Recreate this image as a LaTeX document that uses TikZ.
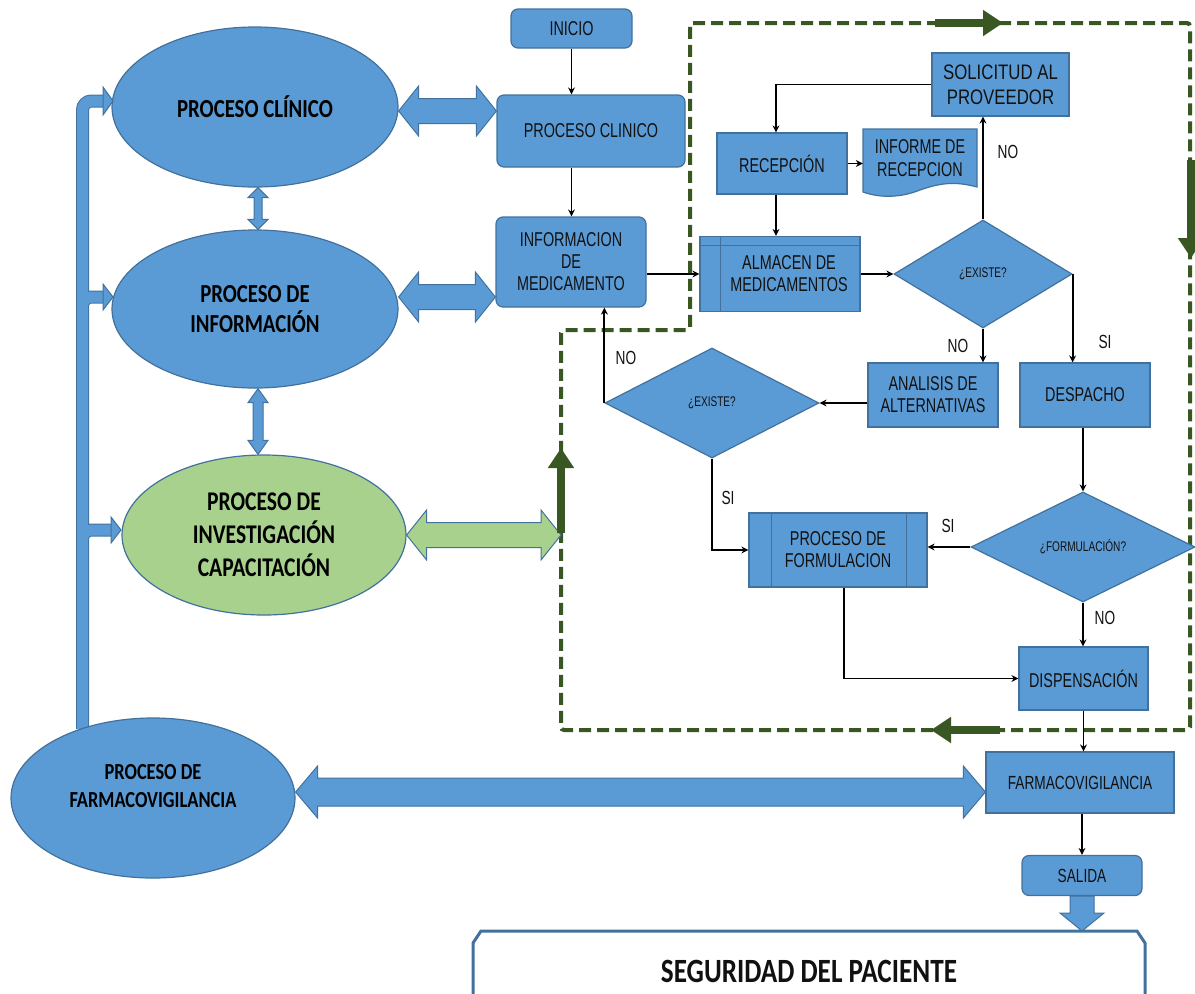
\documentclass[tikz,border=0pt]{standalone}
\usepackage{fontspec}
\usetikzlibrary{shapes.geometric,arrows.meta,calc}
\newfontfamily\boxfont{Liberation Sans}[FakeStretch=0.72]
\newfontfamily\boxfontw{Liberation Sans}[FakeStretch=0.8]
\newfontfamily\elfont{Carlito}[FakeStretch=0.8]
\definecolor{bfill}{HTML}{5B9BD5}
\definecolor{bline}{HTML}{41719C}
\definecolor{gfill}{HTML}{A9D18E}
\definecolor{dgreen}{HTML}{385723}
\definecolor{txt}{HTML}{111111}
% horizontal double block arrow: style, start, end, shaft half, head half, head length
\newcommand\myhdbl[6]{\path[#1] let \p1=(#2), \p2=(#3) in (\x1,\y1) -- (\x1+#6,\y1+#5) -- (\x1+#6,\y1+#4) -- (\x2-#6,\y1+#4) -- (\x2-#6,\y1+#5) -- (\x2,\y1) -- (\x2-#6,\y1-#5) -- (\x2-#6,\y1-#4) -- (\x1+#6,\y1-#4) -- (\x1+#6,\y1-#5) -- cycle;}
% vertical double block arrow: style, top, bottom, shaft half, head half, head length
\newcommand\myvdbl[6]{\path[#1] let \p1=(#2), \p2=(#3) in (\x1,\y1) -- (\x1+#5,\y1-#6) -- (\x1+#4,\y1-#6) -- (\x1+#4,\y2+#6) -- (\x1+#5,\y2+#6) -- (\x1,\y2) -- (\x1-#5,\y2+#6) -- (\x1-#4,\y2+#6) -- (\x1-#4,\y1-#6) -- (\x1-#5,\y1-#6) -- cycle;}
% single down block arrow
\newcommand\mydown[6]{\path[#1] let \p1=(#2), \p2=(#3) in (\x1-#4,\y1) -- (\x1-#4,\y2+#6) -- (\x1-#5,\y2+#6) -- (\x1,\y2) -- (\x1+#5,\y2+#6) -- (\x1+#4,\y2+#6) -- (\x1+#4,\y1) -- cycle;}
\begin{document}
\begin{tikzpicture}[x=1pt,y=-1pt,
  box/.style={draw=bline, fill=bfill, line width=1.2pt, inner sep=0pt, align=center, text=txt, font=\boxfont\fontsize{20}{22}\selectfont},
  rbox/.style={box, rounded corners=7pt},
  dia/.style={diamond, draw=bline, fill=bfill, line width=1.2pt, inner sep=0pt, text=txt, font=\boxfont\fontsize{14}{16}\selectfont},
  ell/.style={ellipse, draw=bline, fill=bfill, line width=1.2pt, inner sep=0pt, align=center, text=black, font=\elfont\bfseries\fontsize{26}{30}\selectfont},
  arr/.style={-{Stealth[length=7pt,width=7pt]}, line width=1.9pt, black},
  lbl/.style={text=txt, font=\boxfont\fontsize{19}{21}\selectfont, inner sep=0pt},
  blk/.style={fill=bfill, draw=bline, line width=1pt},
  gblk/.style={fill=gfill, draw=bline, line width=1pt},
  loopline/.style={dgreen, line width=4pt, dash pattern=on 12pt off 6pt, rounded corners=3pt},
  garr/.style={dgreen, line width=8pt, -{Triangle[length=20pt,width=25pt]}},
]
\useasboundingbox (0,0) rectangle (1195,994);

% dashed green loop
\coordinate (D1) at (690,23);
\coordinate (D2) at (1190,23);
\coordinate (D3) at (1190,730);
\coordinate (D4) at (561,730);
\coordinate (D5) at (561,330);
\coordinate (D6) at (690,330);
\draw[loopline] (D1) -- (D2) -- (D3) -- (D4) -- (D5) -- (D6) -- cycle;

% left bus lines
\coordinate (busb) at (82.5,729);
\coordinate (t1) at (113,101);
\coordinate (t2) at (113,297);
\coordinate (t3) at (121,530);
\coordinate (b2) at ($(busb |- t2)+(0,20)$);
\coordinate (b3) at ($(busb |- t3)+(0,18)$);
\draw[bline, line width=13pt, rounded corners=9pt] (busb) |- ($(t1)+(-9,0)$) (b2) |- ($(t2)+(-9,0)$) (b3) |- ($(t3)+(-9,0)$);
\draw[bfill, line width=11pt, rounded corners=9pt] (busb) |- ($(t1)+(-9,0)$) (b2) |- ($(t2)+(-9,0)$) (b3) |- ($(t3)+(-9,0)$);

% ellipses
\node[ell, minimum width=286pt, minimum height=160pt] (e1) at (255,107) {PROCESO CLÍNICO};
\node[ell, minimum width=286pt, minimum height=158pt] (e2) at (255,309) {PROCESO DE\\INFORMACIÓN};
\node[ell, fill=gfill, minimum width=284pt, minimum height=160pt, font=\elfont\bfseries\fontsize{27}{33}\selectfont] (e3) at (264,535) {PROCESO DE\\INVESTIGACIÓN\\CAPACITACIÓN};
\node[ell, minimum width=284pt, minimum height=160pt] (e4) at (153,798) {};
\node[text=black, align=center, inner sep=0pt, font=\elfont\bfseries\fontsize{23}{28}\selectfont] (e4t) at (153,786) {PROCESO DE\\FARMACOVIGILANCIA};

% bus arrow heads
\path[blk] (t1) -- ++(-10,-14) -- ++(0,28) -- cycle;
\path[blk] (t2) -- ++(-10,-13) -- ++(0,26) -- cycle;
\path[blk] (t3) -- ++(-10,-13) -- ++(0,26) -- cycle;

% process boxes
\node[rbox, minimum width=121pt, minimum height=39pt] (inicio) at (571.5,28.5) {INICIO};
\node[rbox, minimum width=188pt, minimum height=72pt] (pclin) at (591,131) {PROCESO CLINICO};
\node[rbox, minimum width=150pt, minimum height=90pt] (infmed) at (571,262) {INFORMACION\\DE\\MEDICAMENTO};
\node[box, minimum width=130pt, minimum height=61pt] (recep) at (782,163.5) {RECEPCIÓN};
\node[box, minimum width=160pt, minimum height=75pt] (alm) at (780,274) {\hspace*{18pt}ALMACEN DE\\\hspace*{18pt}MEDICAMENTOS};
\draw[bline, line width=1pt] ([xshift=21pt]alm.north west) -- ([xshift=21pt]alm.south west);
\draw[bline, line width=1pt] ([yshift=-10pt]alm.north west) -- ([yshift=-10pt]alm.north east);
% document shape
\path[fill=bfill, draw=bline, line width=1.2pt] (863,129) -- (977,129) -- (977,187) .. controls (955,181) and (940,183) .. (920,190) .. controls (900,198) and (880,198) .. (863,192) -- cycle;
\node[inner sep=0pt, align=center, text=txt, font=\boxfont\fontsize{20}{23}\selectfont, minimum width=114pt, minimum height=58pt] (informe) at (920,158) {INFORME DE\\RECEPCION};
\node[box, minimum width=137pt, minimum height=63pt, font=\boxfontw\fontsize{21}{25}\selectfont] (solic) at (1000.5,84.5) {SOLICITUD AL\\PROVEEDOR};
\node[dia, minimum width=178pt, minimum height=108pt] (d1) at (983,274) {¿EXISTE?};
\node[box, minimum width=130pt, minimum height=64pt] (anal) at (933,395) {ANALISIS DE\\ALTERNATIVAS};
\node[box, minimum width=130pt, minimum height=64pt] (desp) at (1085,395) {DESPACHO};
\node[dia, minimum width=214pt, minimum height=110pt] (d2) at (712,403) {¿EXISTE?};
\node[box, minimum width=178pt, minimum height=74pt] (form) at (838,550) {PROCESO DE\\FORMULACION};
\draw[bline, line width=1pt] ([xshift=23pt]form.north west) -- ([xshift=23pt]form.south west);
\draw[bline, line width=1pt] ([xshift=-21pt]form.north east) -- ([xshift=-21pt]form.south east);
\node[dia, minimum width=224pt, minimum height=110pt] (d3) at (1083,547) {¿FORMULACIÓN?};
\node[box, minimum width=129pt, minimum height=63pt] (disp) at (1083.5,678.5) {DISPENSACIÓN};
\node[box, minimum width=188pt, minimum height=61pt, font=\boxfont\fontsize{19}{21}\selectfont] (farm) at (1080,782.5) {FARMACOVIGILANCIA};
\node[rbox, minimum width=120pt, minimum height=40pt, font=\boxfont\fontsize{19}{21}\selectfont] (salida) at (1082,875.5) {SALIDA};

% seguridad del paciente
\path[fill=white, draw=bline, line width=3pt] (473,1000) -- (473,943) -- (481,931) -- (1137,931) -- (1145,943) -- (1145,1000);
\node[inner sep=0pt, text=txt, font=\elfont\bfseries\fontsize{34}{40}\selectfont] (segur) at (809,971) {SEGURIDAD DEL PACIENTE};
\coordinate (segtop) at (1081,931);

% thin connectors
\draw[arr] (inicio.south) -- (inicio.south |- pclin.north);
\draw[arr] (inicio.south |- pclin.south) -- (inicio.south |- infmed.north);
\draw[arr] (infmed.east |- alm.west) -- (alm.west);
\draw[arr] (alm.east) -- (d1.west);
\draw[arr] (d1.north) -- (d1.north |- solic.south);
\draw[arr] (solic.west) -| ([xshift=-6pt]recep.north);
\draw[arr] ([xshift=-6pt]recep.south) -- ([xshift=-6pt]recep.south |- alm.north);
\draw[arr] (recep.east) -- (recep.east -| informe.west);
\draw[arr] (d1.south) -- (d1.south |- anal.north);
\draw[arr] (d1.east) -- (d1.east |- desp.north);
\draw[arr] (anal.west |- d2.east) -- (d2.east);
\draw[arr] (d2.west) -- (d2.west |- infmed.south);
\draw[arr] (d2.south) |- (form.west);
\draw[arr] (d3.north |- desp.south) -- (d3.north);
\draw[arr] (d3.west) -- (d3.west -| form.east);
\draw[arr] (d3.south) -- (d3.south |- disp.north);
\draw[arr] ([xshift=6pt]form.south) |- (disp.west);
\draw[arr] (disp.south) -- (disp.south |- farm.north);
\draw[arr] (salida.north |- farm.south) -- (salida.north);

% labels
\node[lbl] (l1) at (1008,152) {NO};
\node[lbl] (l2) at (958,346) {NO};
\node[lbl] (l3) at (1105,342) {SI};
\node[lbl] (l4) at (626,358) {NO};
\node[lbl] (l5) at (728,498) {SI};
\node[lbl] (l6) at (948,526) {SI};
\node[lbl] (l7) at (1105,618) {NO};

% block arrows
\myhdbl{blk}{[yshift=-4pt]e1.east}{pclin.west}{12.5pt}{25pt}{20pt}
\myhdbl{blk}{[yshift=12pt]e2.east}{infmed.west}{12.5pt}{25pt}{20pt}
\myhdbl{gblk}{e3.east}{e3.east -| D4}{12.5pt}{25pt}{20pt}
\myhdbl{blk}{[yshift=6pt]e4.east}{farm.west}{14pt}{26pt}{22pt}
\myvdbl{blk}{[xshift=3pt]e1.south}{e2.north}{4pt}{10pt}{10pt}
\myvdbl{blk}{[xshift=3pt]e2.south}{e3.north}{5pt}{10pt}{14pt}
\mydown{blk}{salida.south}{segtop}{12pt}{22pt}{18pt}

% green flow arrows on the loop
\coordinate (g1a) at (935,23);
\coordinate (g1b) at (1003,23);
\coordinate (g2a) at (1191,160);
\coordinate (g2b) at (1191,258);
\coordinate (g3a) at (561,533);
\coordinate (g3b) at (561,448);
\coordinate (g4a) at (1000,730);
\coordinate (g4b) at (931,730);
\draw[garr] (g1a) -- (g1b);
\draw[garr] (g2a) -- (g2b);
\draw[garr] (g3a) -- (g3b);
\draw[garr] (g4a) -- (g4b);
\end{tikzpicture}
\end{document}
